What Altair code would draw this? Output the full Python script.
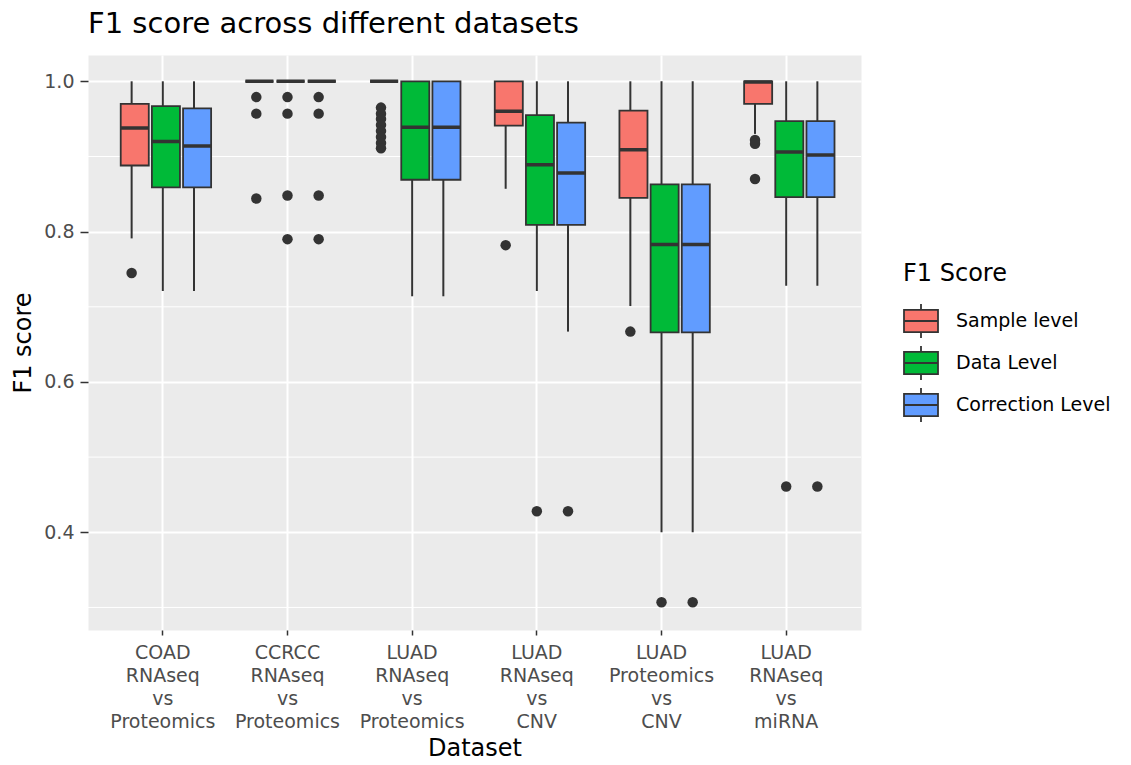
import altair as alt
import pandas as pd

# ---- data ----
datasets = [
    "COAD RNAseq vs Proteomics",
    "CCRCC RNAseq vs Proteomics",
    "LUAD RNAseq vs Proteomics",
    "LUAD RNAseq vs CNV",
    "LUAD Proteomics vs CNV",
    "LUAD RNAseq vs miRNA",
]
levels = ["Sample level", "Data Level", "Correction Level"]
colors = ["#F8766D", "#00BA38", "#619CFF"]

whisker_low = {
    "Sample level":     [0.791, 1.000, 1.000, 0.857, 0.701, 0.930],
    "Data Level":       [0.721, 1.000, 0.714, 0.721, 0.400, 0.728],
    "Correction Level": [0.721, 1.000, 0.714, 0.667, 0.400, 0.728],
}
q1 = {
    "Sample level":     [0.888, 1.000, 1.000, 0.941, 0.845, 0.970],
    "Data Level":       [0.859, 1.000, 0.869, 0.809, 0.666, 0.846],
    "Correction Level": [0.859, 1.000, 0.869, 0.809, 0.666, 0.846],
}
median = {
    "Sample level":     [0.938, 1.000, 1.000, 0.960, 0.909, 0.999],
    "Data Level":       [0.920, 1.000, 0.939, 0.889, 0.783, 0.906],
    "Correction Level": [0.914, 1.000, 0.939, 0.878, 0.783, 0.902],
}
q3 = {
    "Sample level":     [0.970, 1.000, 1.000, 1.000, 0.961, 1.000],
    "Data Level":       [0.967, 1.000, 1.000, 0.955, 0.863, 0.947],
    "Correction Level": [0.964, 1.000, 1.000, 0.945, 0.863, 0.947],
}
whisker_high = {
    "Sample level":     [1.0, 1.0, 1.0, 1.0, 1.0, 1.0],
    "Data Level":       [1.0, 1.0, 1.0, 1.0, 1.0, 1.0],
    "Correction Level": [1.0, 1.0, 1.0, 1.0, 1.0, 1.0],
}

out_dataset = (
    [datasets[0]] + [datasets[1]] * 3 + [datasets[2]] * 8 + [datasets[3]] + [datasets[4]] + [datasets[5]] * 3
    + [datasets[1]] * 4 + [datasets[3]] + [datasets[4]] + [datasets[5]]
    + [datasets[1]] * 4 + [datasets[3]] + [datasets[4]] + [datasets[5]]
)
out_level = (
    ["Sample level"] * 17 + ["Data Level"] * 7 + ["Correction Level"] * 7
)
out_value = [
    0.745,
    0.979, 0.957, 0.844,
    0.965, 0.957, 0.950, 0.942, 0.934, 0.926, 0.918, 0.911,
    0.782,
    0.667,
    0.922, 0.917, 0.870,
    0.979, 0.957, 0.848, 0.790, 0.428, 0.307, 0.461,
    0.979, 0.957, 0.848, 0.790, 0.428, 0.307, 0.461,
]

y_ticks = [0.4, 0.6, 0.8, 1.0]
y_minor = [0.3, 0.5, 0.7, 0.9]
y_domain = [0.270, 1.035]

# ---- tables ----
rows = []
for lev in levels:
    for i, ds in enumerate(datasets):
        rows.append(dict(dataset=ds, level=lev, lo=whisker_low[lev][i], q1=q1[lev][i],
                         med=median[lev][i], q3=q3[lev][i], hi=whisker_high[lev][i]))
box_df = pd.DataFrame(rows)
out_df = pd.DataFrame({"dataset": out_dataset, "level": out_level, "value": out_value})
minor_df = pd.DataFrame({"y": y_minor})

# ---- encodings ----
ink = "#333333"
y_scale = alt.Scale(domain=y_domain, nice=False, zero=False)

x_enc = alt.X(
    "dataset:N",
    sort=datasets,
    scale=alt.Scale(domain=datasets, paddingInner=0.25, paddingOuter=0.225),
    axis=alt.Axis(
        title="Dataset",
        labelExpr="split(datum.label, ' ')",
        labelAngle=0,
        labelFontSize=19,
        labelColor="#4D4D4D",
        labelLineHeight=23,
        labelBaseline="top",
        labelPadding=8,
        labelOverlap=False,
        labelLimit=300,
        tickSize=5,
        tickColor=ink,
        tickWidth=1.5,
        domain=False,
        grid=True,
        gridColor="white",
        gridWidth=2,
        bandPosition=0.5,
        titleFontSize=24,
        titleFontWeight="normal",
        titleColor="black",
        titlePadding=5,
    ),
)
xoff = alt.XOffset("level:N", sort=levels,
                   scale=alt.Scale(domain=levels, paddingInner=0, paddingOuter=0))

y_axis = alt.Axis(
    title="F1 score",
    values=y_ticks,
    format=".1f",
    grid=True,
    gridColor="white",
    gridWidth=2,
    domain=False,
    tickColor=ink,
    tickSize=8,
    tickWidth=1.5,
    labelColor="#4D4D4D",
    labelFontSize=19,
    labelPadding=6,
    titleFontSize=24,
    titleFontWeight="normal",
    titleColor="black",
    titlePadding=8,
)

legend_symbol = "M-1,-0.66H1V0.66H-1Z M-1,0H1 M0,-1V-0.66 M0,0.66V1"

minor = alt.Chart(minor_df).mark_rule(color="white", strokeWidth=1).encode(
    y=alt.Y("y:Q", scale=y_scale, axis=y_axis)
)

whiskers = alt.Chart(box_df).mark_rule(color=ink, strokeWidth=2).encode(
    x=x_enc, xOffset=xoff,
    y=alt.Y("lo:Q", scale=y_scale, axis=y_axis),
    y2="hi:Q",
)

boxes = alt.Chart(box_df).mark_bar(
    stroke=ink, strokeWidth=1.8, width=alt.RelativeBandSize(0.9), opacity=1
).encode(
    x=x_enc, xOffset=xoff,
    y=alt.Y("q1:Q", scale=y_scale, axis=y_axis),
    y2="q3:Q",
    color=alt.Color(
        "level:N",
        sort=levels,
        scale=alt.Scale(domain=levels, range=colors),
        legend=alt.Legend(
            title="F1 Score",
            orient="none",
            legendX=815,
            legendY=207,
            symbolType=legend_symbol,
            symbolSize=1156,
            symbolStrokeColor=ink,
            symbolStrokeWidth=1.8,
            symbolOpacity=1,
            labelFontSize=19,
            labelColor="black",
            labelOffset=17,
            titleFontSize=24,
            titleFontWeight="normal",
            titleColor="black",
            titlePadding=17,
            rowPadding=0,
            padding=0,
        ),
    ),
)

medians = alt.Chart(box_df).mark_bar(
    stroke=ink, strokeWidth=3.5, fill=ink, width=alt.RelativeBandSize(0.9)
).encode(
    x=x_enc, xOffset=xoff,
    y=alt.Y("med:Q", scale=y_scale, axis=y_axis),
    y2="med:Q",
)

points = alt.Chart(out_df).mark_circle(size=110, color=ink, opacity=1).encode(
    x=x_enc, xOffset=xoff,
    y=alt.Y("value:Q", scale=y_scale, axis=y_axis),
)

chart = alt.layer(minor, whiskers, boxes, medians, points).properties(
    width=773,
    height=575,
    title=alt.TitleParams(
        "F1 score across different datasets",
        anchor="start",
        frame="group",
        fontSize=29,
        fontWeight="normal",
        color="black",
        offset=16,
    ),
    autosize=alt.AutoSizeParams(type="none"),
    padding={"left": 88, "top": 55, "right": 270, "bottom": 135},
).configure(
    font="DejaVu Sans",
    background="white",
).configure_view(
    fill="#EBEBEB",
    stroke="transparent",
)

chart.save("out.html", embed_options={"renderer": "svg", "actions": False})
